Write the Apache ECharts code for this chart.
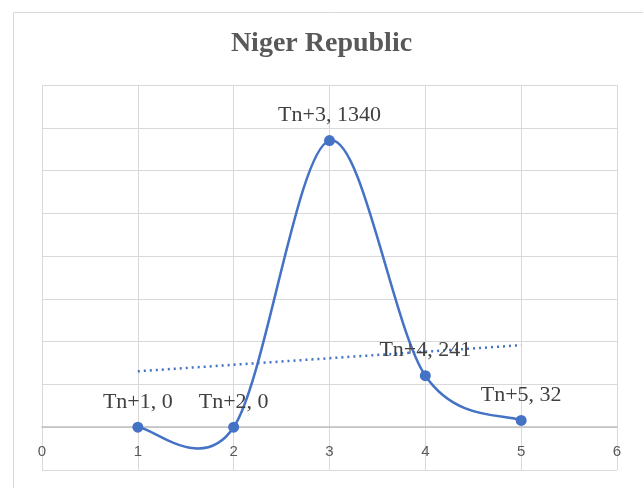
<!DOCTYPE html>
<html>
<head>
<meta charset="utf-8">
<script src="https://cdn.jsdelivr.net/npm/echarts@6/dist/echarts.min.js"></script>
<style>
  html, body { margin: 0; padding: 0; background: #fff; }
  #chart { width: 643px; height: 488px; }
</style>
</head>
<body>
<div id="chart"></div>
<script>
// Periods and observed values
const periods = ['Tn+1', 'Tn+2', 'Tn+3', 'Tn+4', 'Tn+5'];
const xPositions = [1, 2, 3, 4, 5];
const values = [0, 0, 1340, 241, 32];
const xTicks = [0, 1, 2, 3, 4, 5, 6];

// Linear least-squares trendline over the observed points
function linearFit(xs, ys) {
  const n = xs.length;
  const mx = xs.reduce((a, b) => a + b, 0) / n;
  const my = ys.reduce((a, b) => a + b, 0) / n;
  let num = 0, den = 0;
  for (let i = 0; i < n; i++) {
    num += (xs[i] - mx) * (ys[i] - my);
    den += (xs[i] - mx) * (xs[i] - mx);
  }
  const slope = num / den;
  return x => my + slope * (x - mx);
}
const fit = linearFit(xPositions, values);
const trendX = [xPositions[0], xPositions[xPositions.length - 1]];

const blue = '#4472C4';

// Cardinal-spline segment between point i and i+1, in pixel space
function renderSegment(params, api) {
  const i = api.value(2);
  const n = xPositions.length;
  const pt = j => {
    const k = Math.max(0, Math.min(n - 1, j));
    return api.coord([xPositions[k], values[k]]);
  };
  const p0 = pt(i - 1), p1 = pt(i), p2 = pt(i + 1), p3 = pt(i + 2);
  const t = 1 / 6;
  return {
    type: 'bezierCurve',
    shape: {
      x1: p1[0], y1: p1[1],
      x2: p2[0], y2: p2[1],
      cpx1: p1[0] + (p2[0] - p0[0]) * t,
      cpy1: p1[1] + (p2[1] - p0[1]) * t,
      cpx2: p2[0] - (p3[0] - p1[0]) * t,
      cpy2: p2[1] - (p3[1] - p1[1]) * t
    },
    style: { fill: null, stroke: blue, lineWidth: 2.5, lineCap: 'round' },
    silent: true
  };
}

const chart = echarts.init(document.getElementById('chart'), null, { renderer: 'canvas' });

chart.setOption({
  backgroundColor: '#ffffff',
  animation: false,
  title: {
    text: 'Niger Republic',
    left: 'center',
    top: 25,
    textStyle: {
      fontFamily: 'Liberation Serif',
      fontWeight: 'bold',
      fontSize: 28,
      color: '#595959'
    }
  },
  graphic: [{
    type: 'rect',
    shape: { x: 13.5, y: 12.5, width: 700, height: 600 },
    style: { fill: 'none', stroke: '#d9d9d9', lineWidth: 1 },
    silent: true,
    z: -1
  }],
  grid: { left: 42, right: 26, top: 85, bottom: 18, outerBoundsMode: 'none', containLabel: false },
  xAxis: {
    type: 'value',
    min: 0,
    max: 6,
    interval: 1,
    axisLine: { show: true, onZero: true, lineStyle: { color: '#bfbfbf', width: 1.5 } },
    axisTick: { show: false },
    axisLabel: {
      // tick labels sit just under the zero line, inside the plot
      margin: -26,
      fontFamily: 'Liberation Sans',
      fontSize: 15,
      color: '#595959',
      formatter: v => xTicks.includes(v) ? String(v) : ''
    },
    splitLine: { show: true, lineStyle: { color: '#d9d9d9', width: 1 } }
  },
  yAxis: {
    type: 'value',
    min: -200,
    max: 1600,
    interval: 200,
    axisLine: { show: false },
    axisTick: { show: false },
    axisLabel: { show: false },
    splitLine: { show: true, lineStyle: { color: '#d9d9d9', width: 1 } }
  },
  series: [
    {
      type: 'custom',
      name: 'Niger Republic curve',
      renderItem: renderSegment,
      data: xPositions.slice(0, -1).map((x, i) => [x, values[i], i]),
      encode: { x: 0, y: 1 },
      clip: false,
      z: 3
    },
    {
      type: 'scatter',
      name: 'Niger Republic',
      data: xPositions.map((x, i) => [x, values[i], periods[i]]),
      symbol: 'circle',
      symbolSize: 11,
      itemStyle: { color: blue, opacity: 1 },
      label: {
        show: true,
        position: 'top',
        distance: 9,
        fontFamily: 'Liberation Serif',
        fontSize: 22,
        color: '#404040',
        formatter: p => p.data[2] + ', ' + p.data[1]
      },
      z: 4
    },
    {
      type: 'line',
      name: 'Linear trend',
      data: trendX.map(x => [x, fit(x)]),
      symbol: 'none',
      lineStyle: { color: blue, width: 2.5, type: [2, 4] },
      z: 2
    }
  ]
});
</script>
</body>
</html>
